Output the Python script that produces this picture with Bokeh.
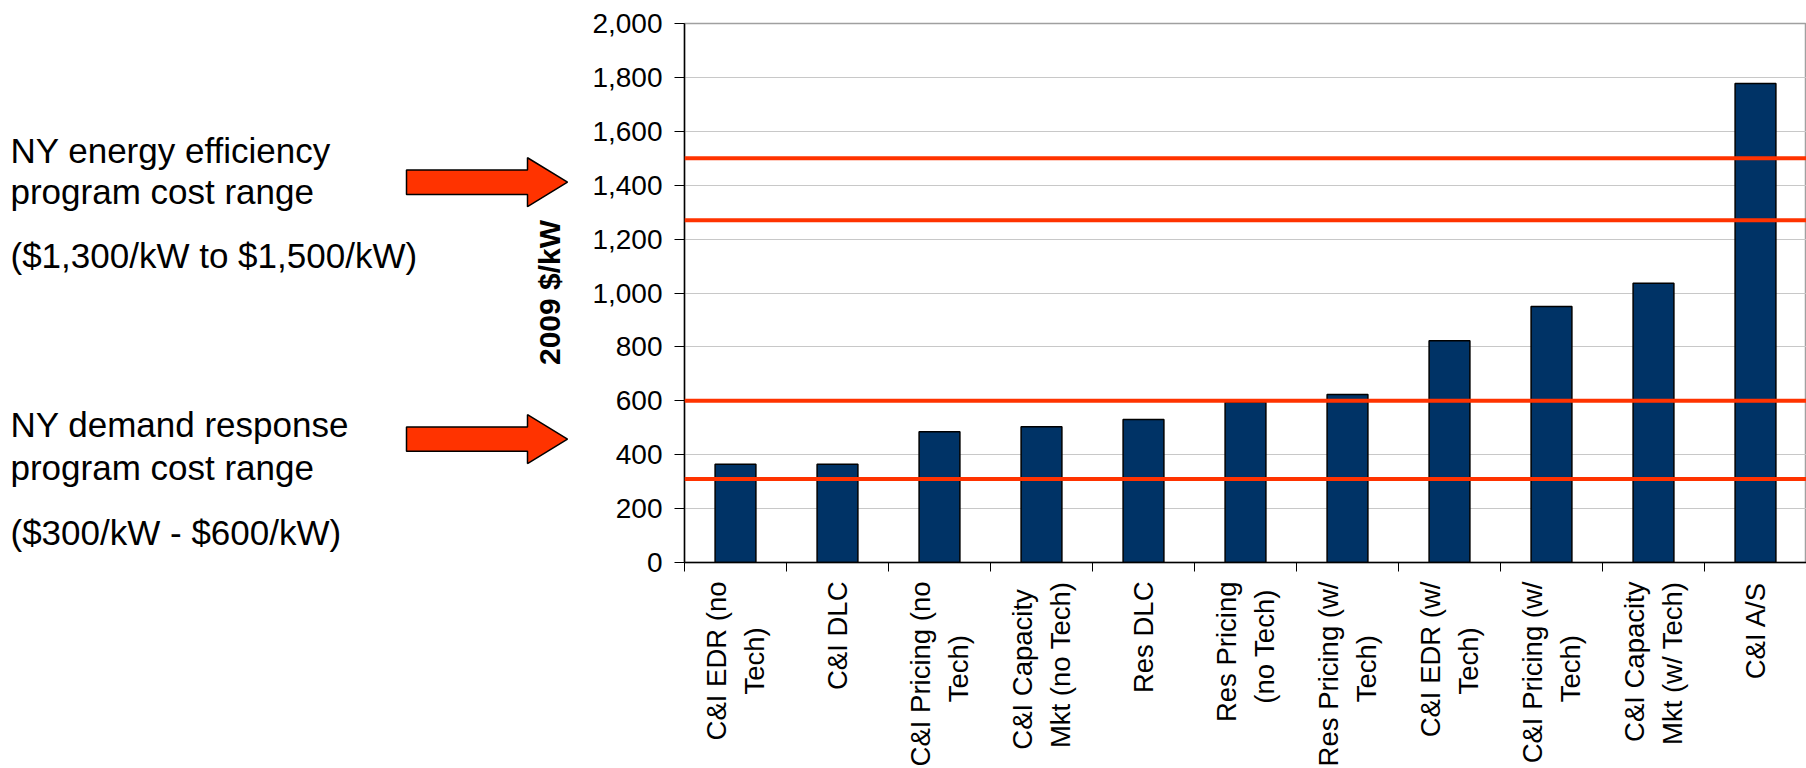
import math
from bokeh.plotting import figure
from bokeh.layouts import row
from bokeh.models import Range1d, FixedTicker, NumeralTickFormatter, Span
from bokeh.core.properties import value
from bokeh.embed import file_html
from bokeh.resources import INLINE

# ---------------- data ----------------
categories = [
    "C&I EDR (no\nTech)", "C&I DLC", "C&I Pricing (no\nTech)", "C&I Capacity\nMkt (no Tech)",
    "Res DLC", "Res Pricing\n(no Tech)", "Res Pricing (w/\nTech)", "C&I EDR (w/\nTech)",
    "C&I Pricing (w/\nTech)", "C&I Capacity\nMkt (w/ Tech)", "C&I A/S",
]
costs = [365, 365, 485, 504, 531, 595, 623, 823, 950, 1036, 1777]
ee_range = [1270, 1500]          # NY energy efficiency program cost range lines
dr_range = [310, 600]            # NY demand response program cost range lines
arrow_targets = [1410, 455]      # where the two arrows point (2009 $/kW)
y_ticks = [0, 200, 400, 600, 800, 1000, 1200, 1400, 1600, 1800, 2000]
y_title = "2009 $/kW"
ee_text = ["NY energy efficiency", "program cost range", "($1,300/kW to $1,500/kW)"]
dr_text = ["NY demand response", "program cost range", "($300/kW - $600/kW)"]

FONT = "Liberation Sans"
BAR = "#003366"
RED = "#FF3300"

# ---------------- layout constants ----------------
W, H = 1806, 768
FRAME_TOP, FRAME_H = 23, 539
FRAME_BOTTOM = H - FRAME_TOP - FRAME_H
LEFT_W = 575            # width of the annotation panel on the left
AXIS_X = 684            # x position of the value axis on the page

# presentation only: no-break spaces appended to the shorter line of the
# two-line category labels so that the rotated lines look centred
NBSP = "\u00a0"
label_pad = [(1, 6), None, (1, 7), (0, 1), None, (1, 1), (1, 7), (1, 6), (1, 7), None, None]


def centred(label, pad):
    if pad is None:
        return label
    lines = label.split("\n")
    idx, k = pad
    lines[idx] = lines[idx] + NBSP * k
    return "\n".join(lines)


n = len(categories)
centers = [i + 0.5 for i in range(n)]
bounds = list(range(n + 1))
y_range = Range1d(0, 2000)


def to_val(page_y):
    return (FRAME_TOP + FRAME_H - page_y) * 2000.0 / FRAME_H


# ---------------- main chart ----------------
main = figure(width=W - LEFT_W, height=H,
              frame_width=W - AXIS_X, frame_height=FRAME_H,
              output_backend="svg", toolbar_location=None,
              x_range=Range1d(0, n), y_range=y_range,
              min_border_left=AXIS_X - LEFT_W, min_border_right=0,
              min_border_top=FRAME_TOP, min_border_bottom=FRAME_BOTTOM,
              background_fill_color="white", border_fill_color="white")

main.vbar(x=centers, top=costs, width=0.4, fill_color=BAR, line_color="black", line_width=1.5)

for v in ee_range + dr_range:
    main.add_layout(Span(location=v, dimension="width", line_color=RED, line_width=4))

main.xgrid.visible = False
main.ygrid.ticker = FixedTicker(ticks=y_ticks)
main.ygrid.grid_line_color = "#C8C8C8"
main.ygrid.grid_line_width = 1
main.outline_line_color = "#A0A0A0"
main.outline_line_width = 1.5

ya = main.yaxis[0]
ya.ticker = FixedTicker(ticks=y_ticks)
ya.formatter = NumeralTickFormatter(format="0,0")
ya.axis_line_color = "black"
ya.axis_line_width = 1.5
ya.major_tick_in = 0
ya.major_tick_out = 10
ya.major_tick_line_color = "black"
ya.minor_tick_line_color = None
ya.major_label_text_font = FONT
ya.major_label_text_font_size = "28px"
ya.major_label_text_color = "black"
ya.major_label_standoff = 12

xa = main.xaxis[0]
xa.ticker = FixedTicker(ticks=centers, minor_ticks=bounds)
xa.major_label_overrides = {c: centred(lab, pad) for c, lab, pad in zip(centers, categories, label_pad)}
xa.major_tick_line_color = None
xa.minor_tick_in = 0
xa.minor_tick_out = 9
xa.minor_tick_line_color = "black"
xa.axis_line_color = "black"
xa.axis_line_width = 1.5
xa.major_label_orientation = math.pi / 2
xa.major_label_text_font = FONT
xa.major_label_text_font_size = "27.5px"
xa.major_label_text_color = "black"
xa.major_label_standoff = 10

# ---------------- left annotation panel ----------------
left = figure(width=LEFT_W, height=H, output_backend="svg", toolbar_location=None,
              x_range=Range1d(0, LEFT_W), y_range=y_range,
              min_border_left=0, min_border_right=0,
              min_border_top=FRAME_TOP, min_border_bottom=FRAME_BOTTOM,
              background_fill_color="white", border_fill_color="white")
left.axis.visible = False
left.grid.visible = False
left.outline_line_color = None

# value-axis title (rotated), centred on the axis range
left.text(x=[549], y=[(y_range.start + y_range.end) / 2], text=[y_title], angle=math.pi / 2,
          text_align="center", text_baseline="middle", text_font=value(FONT),
          text_font_size="30px", text_font_style="bold", text_color="black")

# explanatory text blocks
left.text(x=[10] * 3, y=[to_val(v) for v in (150, 191, 255)], text=ee_text,
          text_align="left", text_baseline="alphabetic", text_font=value(FONT),
          text_font_size="35px", text_color="black")
left.text(x=[10] * 3, y=[to_val(v) for v in (425, 468, 533)], text=dr_text,
          text_align="left", text_baseline="alphabetic", text_font=value(FONT),
          text_font_size="35px", text_color="black")

# block arrows pointing at the range targets
px_per_unit = FRAME_H / 2000.0
hb = 12.2 / px_per_unit
hh = 24.5 / px_per_unit
arrow_x = [406, 527, 527, 567, 527, 527, 406]
xs, ys = [], []
for t in arrow_targets:
    xs.append(arrow_x)
    ys.append([t + hb, t + hb, t + hh, t, t - hh, t - hb, t - hb])
left.patches(xs=xs, ys=ys, fill_color=RED, line_color="black", line_width=1.5)

p = row(left, main)
open("out.html", "w").write(file_html(p, INLINE))
